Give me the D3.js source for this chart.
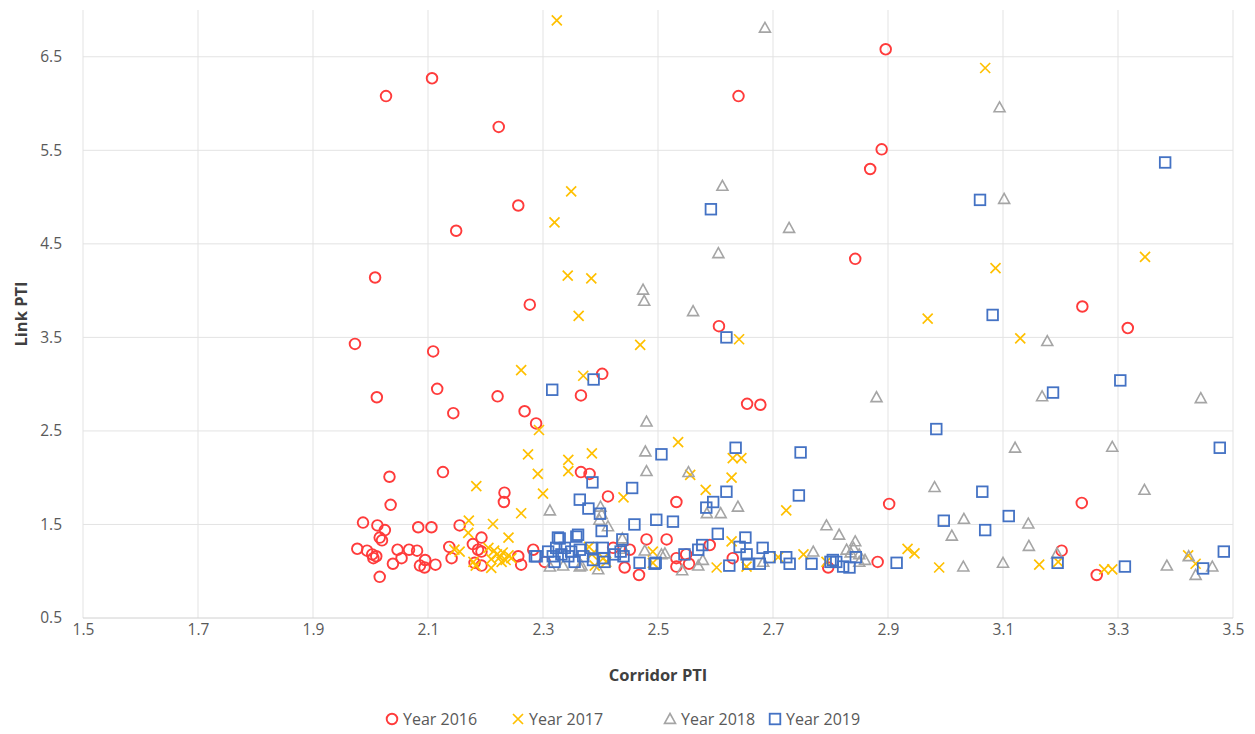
<!DOCTYPE html>
<html>
<head>
<meta charset="utf-8">
<script src="https://cdn.jsdelivr.net/npm/d3@7"></script>
<style>
  html, body { margin: 0; padding: 0; background: #ffffff; }
  svg { display: block; font-family: "Open Sans", "Liberation Sans", sans-serif; }
</style>
</head>
<body>
<svg id="chart" width="1255" height="734"></svg>
<script>
// Corridor PTI (x) vs Link PTI (y) for each survey year
const xTicks = [1.5, 1.7, 1.9, 2.1, 2.3, 2.5, 2.7, 2.9, 3.1, 3.3, 3.5];
const yTicks = [0.5, 1.5, 2.5, 3.5, 4.5, 5.5, 6.5];
const seriesNames = ["Year 2016", "Year 2017", "Year 2018", "Year 2019"];

const year2016 = [
  [2.027,6.08],[2.107,6.27],[2.223,5.75],[2.257,4.91],[2.149,4.64],[2.008,4.14],[2.277,3.85],
  [2.896,6.58],[2.640,6.08],[2.889,5.51],[2.869,5.30],[2.843,4.34],[3.238,3.83],[2.606,3.62],[3.317,3.60],
  [1.973,3.43],[2.109,3.35],[2.403,3.11],[2.011,2.86],[2.116,2.95],[2.221,2.87],[2.366,2.88],[2.655,2.79],
  [2.678,2.78],[2.144,2.69],[2.268,2.71],[2.288,2.58],
  [2.366,2.06],[2.381,2.04],[2.033,2.01],[2.126,2.06],
  [2.233,1.84],[2.232,1.74],[2.413,1.80],[2.035,1.71],[2.532,1.74],[2.902,1.72],[3.237,1.73],
  [1.987,1.52],[2.012,1.49],[2.025,1.44],[2.083,1.47],[2.106,1.47],[2.155,1.49],[2.193,1.36],
  [2.016,1.36],[2.020,1.33],[1.977,1.24],[1.994,1.22],[2.003,1.18],[2.005,1.14],[2.010,1.16],
  [2.047,1.23],[2.067,1.23],[2.081,1.22],[2.054,1.14],[2.039,1.08],[2.086,1.06],[2.095,1.12],
  [2.094,1.04],[2.113,1.07],[2.016,0.94],
  [2.137,1.26],[2.141,1.14],[2.178,1.29],[2.187,1.23],[2.193,1.21],[2.181,1.09],[2.193,1.06],
  [2.257,1.16],[2.262,1.07],[2.283,1.23],[2.303,1.10],
  [2.480,1.34],[2.515,1.34],[2.422,1.25],[2.451,1.23],[2.442,1.04],[2.467,0.96],[2.532,1.05],
  [2.532,1.14],[2.549,1.18],[2.554,1.08],
  [2.590,1.28],[2.630,1.14],[2.796,1.04],[2.882,1.10],[3.202,1.22],[3.263,0.96]
];

const year2017 = [
  [2.324,6.89],[2.349,5.06],[2.320,4.73],[2.343,4.16],[2.384,4.13],[2.362,3.73],
  [3.069,6.38],[3.087,4.24],[3.347,4.36],[2.969,3.70],[3.130,3.49],[2.641,3.48],[2.469,3.42],
  [2.262,3.15],[2.370,3.09],[2.293,2.51],[2.535,2.38],[2.630,2.21],[2.645,2.21],[2.274,2.25],
  [2.344,2.19],[2.385,2.26],[2.344,2.07],[2.291,2.04],[2.556,2.03],[2.628,2.00],
  [2.184,1.91],[2.300,1.83],[2.440,1.79],[2.583,1.87],[2.262,1.62],[2.723,1.65],
  [2.171,1.54],[2.213,1.505],[2.170,1.41],[2.240,1.36],[2.155,1.21],[2.179,1.10],[2.146,1.23],
  [2.205,1.25],[2.215,1.22],[2.220,1.18],[2.225,1.15],[2.230,1.20],[2.235,1.12],[2.240,1.17],
  [2.228,1.10],[2.210,1.13],[2.245,1.14],[2.210,1.035],[2.183,1.06],
  [2.380,1.26],[2.385,1.18],[2.410,1.10],[2.390,1.06],[2.405,1.14],[2.491,1.21],[2.491,1.09],
  [2.628,1.32],[2.602,1.04],[2.654,1.05],[2.709,1.15],[2.753,1.18],[2.793,1.10],
  [2.934,1.24],[2.946,1.19],[2.989,1.04],[3.163,1.07],[3.196,1.10],[3.276,1.02],[3.290,1.02],
  [3.422,1.17],[3.435,1.08]
];

const year2018 = [
  [2.686,6.81],[3.094,5.96],[2.612,5.12],[3.102,4.98],[2.728,4.67],[2.605,4.40],[2.474,4.01],
  [2.476,3.89],[2.561,3.78],[3.177,3.46],
  [2.880,2.86],[3.168,2.87],[3.444,2.85],[2.480,2.60],[2.478,2.28],[3.121,2.32],[3.290,2.33],
  [2.480,2.07],[2.553,2.06],
  [2.981,1.90],[3.346,1.87],[2.639,1.69],[2.312,1.65],[2.400,1.69],[2.402,1.61],[2.398,1.55],
  [2.585,1.62],[2.609,1.62],
  [3.032,1.56],[3.144,1.51],[2.793,1.49],[2.413,1.48],[2.815,1.39],[3.011,1.38],[2.843,1.32],
  [2.438,1.35],[3.145,1.27],
  [2.440,1.24],[2.477,1.22],[2.512,1.19],[2.506,1.18],[2.770,1.21],[2.828,1.23],[2.840,1.25],
  [2.835,1.20],[2.850,1.18],[2.578,1.12],[2.683,1.10],
  [2.312,1.05],[2.364,1.05],[2.396,1.02],[2.335,1.06],[2.367,1.06],[2.570,1.06],[2.542,1.01],
  [2.850,1.10],[2.860,1.12],
  [3.031,1.05],[3.100,1.09],[3.194,1.19],[3.385,1.06],[3.423,1.16],[3.435,0.96],[3.464,1.05]
];

const year2019 = [
  [3.382,5.37],[2.592,4.87],[3.060,4.97],[3.082,3.74],[2.619,3.50],[2.388,3.05],[2.316,2.94],
  [3.187,2.91],[3.304,3.04],
  [2.984,2.52],[2.748,2.27],[2.635,2.32],[2.506,2.25],[3.477,2.32],[2.386,1.95],[2.455,1.89],
  [3.064,1.85],[2.619,1.85],[2.745,1.81],
  [2.364,1.765],[2.379,1.67],[2.596,1.74],[2.584,1.68],[2.399,1.615],[2.997,1.54],[3.110,1.59],
  [3.069,1.44],
  [2.459,1.50],[2.497,1.55],[2.526,1.53],[2.402,1.43],[2.604,1.40],[2.652,1.36],[2.438,1.34],
  [2.329,1.35],[2.361,1.39],[2.326,1.36],[2.358,1.37],
  [2.577,1.28],[2.570,1.23],[2.642,1.26],[2.682,1.25],[2.546,1.18],[2.654,1.18],[2.694,1.15],
  [2.723,1.15],
  [2.496,1.09],[2.468,1.09],[2.494,1.08],[2.624,1.06],[2.657,1.08],[2.677,1.08],[2.729,1.08],
  [2.767,1.08],[2.800,1.10],[2.810,1.10],[2.822,1.05],[2.804,1.12],[2.844,1.15],[2.833,1.04],
  [2.915,1.09],[3.195,1.09],[3.312,1.05],[3.448,1.03],[3.484,1.21],
  [2.286,1.16],[2.289,1.16],[2.309,1.21],[2.317,1.16],[2.323,1.25],[2.332,1.18],[2.338,1.25],
  [2.344,1.16],[2.349,1.21],[2.364,1.23],[2.370,1.16],[2.384,1.25],[2.387,1.12],[2.404,1.25],
  [2.407,1.10],[2.355,1.10],[2.320,1.10],[2.425,1.18],[2.435,1.21],[2.440,1.16],[2.404,1.14]
];

const colors = ["#FF3B3B", "#FFC000", "#A5A5A5", "#4472C4"];
const shapes = ["circle", "cross", "triangle", "square"];

const svg = d3.select("#chart");
const margin = { left: 83, right: 22, top: 10, bottom: 116 };
const W = 1255, H = 734;

const x = d3.scaleLinear().domain([1.5, 3.5]).range([margin.left, W - margin.right]);
const y = d3.scaleLinear().domain([0.5, 7]).range([H - margin.bottom, margin.top]);

// gridlines
const grid = svg.append("g");
grid.selectAll("line.v").data(xTicks).join("line")
  .attr("x1", d => x(d)).attr("x2", d => x(d))
  .attr("y1", y(7)).attr("y2", y(0.5))
  .attr("stroke", "#E3E3E3").attr("stroke-width", 1);
grid.selectAll("line.h").data(yTicks).join("line")
  .attr("x1", x(1.5)).attr("x2", x(3.5))
  .attr("y1", d => y(d)).attr("y2", d => y(d))
  .attr("stroke", d => d === 0.5 ? "#D0D0D0" : "#E3E3E3").attr("stroke-width", 1);

// axes (labels only)
const xAxis = d3.axisBottom(x).tickValues(xTicks).tickSize(0).tickPadding(6)
  .tickFormat(d3.format(".1f"));
const yAxis = d3.axisLeft(y).tickValues(yTicks).tickSize(0).tickPadding(21)
  .tickFormat(d3.format(".1f"));

const gx = svg.append("g").attr("transform", `translate(0,${y(0.5)})`).call(xAxis);
const gy = svg.append("g").attr("transform", `translate(${x(1.5)},0)`).call(yAxis);
[gx, gy].forEach(g => {
  g.select(".domain").remove();
  g.selectAll("text").attr("fill", "#595959").style("font-size", "15.5px")
    .style("font-family", "'Open Sans', sans-serif");
});

// axis titles
svg.append("text")
  .attr("x", x(2.5)).attr("y", 681)
  .attr("text-anchor", "middle")
  .attr("fill", "#404040").style("font-size", "16.5px").style("font-weight", "bold")
  .text("Corridor PTI");
svg.append("text")
  .attr("transform", `translate(27,${(y(0.5) + y(7)) / 2}) rotate(-90)`)
  .attr("text-anchor", "middle")
  .attr("fill", "#404040").style("font-size", "16.5px").style("font-weight", "bold")
  .text("Link PTI");

// marker drawing
function drawMarker(g, shape, color, cx, cy) {
  if (shape === "circle") {
    g.append("circle").attr("cx", cx).attr("cy", cy).attr("r", 5.3)
      .attr("fill", "none").attr("stroke", color).attr("stroke-width", 1.9);
  } else if (shape === "cross") {
    const s = 5;
    g.append("path")
      .attr("d", `M${cx - s},${cy - s}L${cx + s},${cy + s}M${cx - s},${cy + s}L${cx + s},${cy - s}`)
      .attr("stroke", color).attr("stroke-width", 1.7).attr("fill", "none");
  } else if (shape === "triangle") {
    const s = 5.5;
    g.append("path")
      .attr("d", `M${cx},${cy - s}L${cx + s},${cy + s * 0.8}L${cx - s},${cy + s * 0.8}Z`)
      .attr("stroke", color).attr("stroke-width", 1.6).attr("fill", "none");
  } else {
    const s = 5.3;
    g.append("rect").attr("x", cx - s).attr("y", cy - s).attr("width", 2 * s).attr("height", 2 * s)
      .attr("stroke", color).attr("stroke-width", 1.8).attr("fill", "none");
  }
}

const allSeries = [year2016, year2017, year2018, year2019];
allSeries.forEach((data, i) => {
  const g = svg.append("g").attr("class", "series-" + i);
  data.forEach(([cx, cy]) => drawMarker(g, shapes[i], colors[i], x(cx), y(cy)));
});

// legend
const legendX = [392, 518, 670, 775];
const legend = svg.append("g");
seriesNames.forEach((name, i) => {
  const g = legend.append("g");
  drawMarker(g, shapes[i], colors[i], legendX[i], 719);
  g.append("text").attr("x", legendX[i] + 11).attr("y", 724.5)
    .attr("fill", "#595959").style("font-size", "16px").text(name);
});
</script>
</body>
</html>
